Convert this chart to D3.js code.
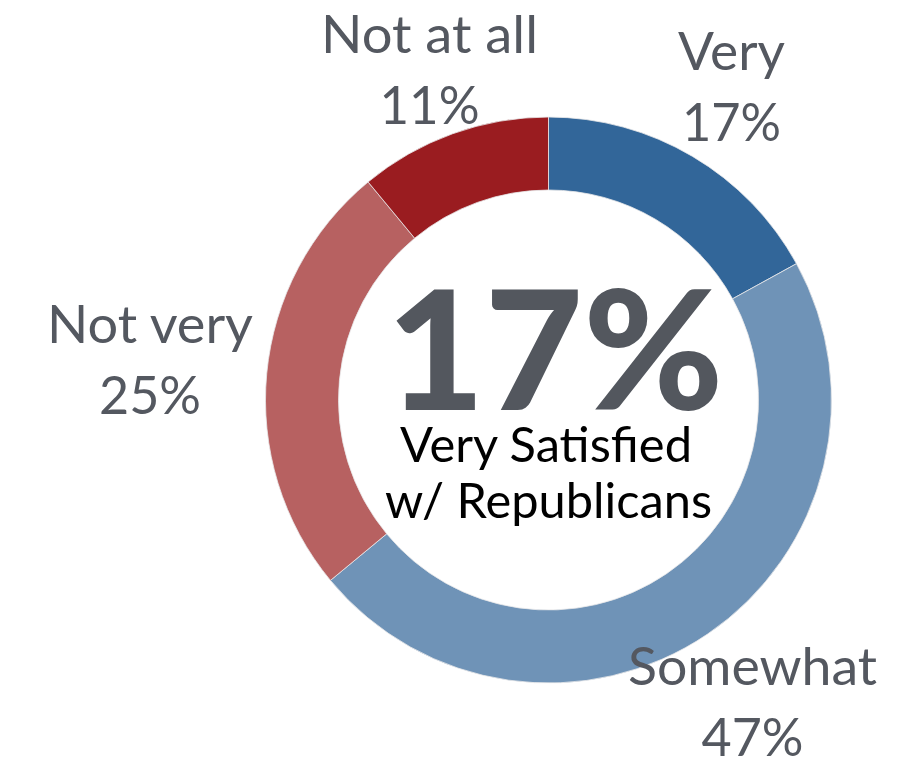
<!DOCTYPE html>
<html>
<head>
<meta charset="utf-8">
<script src="https://cdn.jsdelivr.net/npm/d3@7"></script>
<style>
  html, body { margin: 0; padding: 0; background: #ffffff; }
  svg { display: block; }
</style>
</head>
<body>
<div id="chart"></div>
<script>
// ---- data ----
const categories = ["Very", "Somewhat", "Not very", "Not at all"];
const values = [17, 47, 25, 11];
const colors = ["#326699", "#6f93b7", "#b76161", "#9a1c20"];
const headline = "17%";
const subtitle = ["Very Satisfied", "w/ Republicans"];

// ---- layout (not data) ----
const W = 897, H = 764;
const cx = 548.5, cy = 400;
const rOuter = 283, rInner = 210;
// label anchor (center x, baseline of first line) and target widths
const labelLayout = [
  { x: 731.5, y: 70,  w1: 107, w2: 99 },
  { x: 752.5, y: 685, w1: 249, w2: 102 },
  { x: 150,   y: 343, w1: 206, w2: 102 },
  { x: 429.5, y: 53,  w1: 217, w2: 100 }
];
const lineGap = 71;

const svg = d3.select("#chart").append("svg")
  .attr("width", W).attr("height", H);

const pie = d3.pie().value(d => d).sort(null);
const arc = d3.arc().innerRadius(rInner).outerRadius(rOuter);

const g = svg.append("g").attr("transform", `translate(${cx},${cy})`);
g.selectAll("path")
  .data(pie(values))
  .join("path")
  .attr("d", arc)
  .attr("fill", (d, i) => colors[i])
  .attr("stroke", "#e9e9ea")
  .attr("stroke-width", 0.8);

// outer labels
const labelColor = "#545860";
const lab = svg.append("g")
  .attr("font-family", "Lato, 'Open Sans', sans-serif")
  .attr("fill", labelColor)
  .attr("font-size", 52)
  .attr("text-anchor", "middle");

categories.forEach((c, i) => {
  const L = labelLayout[i];
  lab.append("text")
    .attr("x", L.x).attr("y", L.y)
    .attr("textLength", L.w1).attr("lengthAdjust", "spacingAndGlyphs")
    .text(c);
  lab.append("text")
    .attr("x", L.x).attr("y", L.y + lineGap)
    .attr("textLength", L.w2).attr("lengthAdjust", "spacingAndGlyphs")
    .text(values[i] + "%");
});

// center text
svg.append("text")
  .attr("x", 555).attr("y", 410)
  .attr("text-anchor", "middle")
  .attr("font-family", "Lato, sans-serif")
  .attr("font-weight", 900)
  .attr("font-size", 166)
  .attr("fill", "#53575e")
  .attr("textLength", 337).attr("lengthAdjust", "spacingAndGlyphs")
  .text(headline);

svg.append("text")
  .attr("x", 546).attr("y", 462)
  .attr("text-anchor", "middle")
  .attr("font-family", "Lato, sans-serif")
  .attr("font-size", 48)
  .attr("fill", "#000000")
  .attr("textLength", 292).attr("lengthAdjust", "spacingAndGlyphs")
  .text(subtitle[0]);

svg.append("text")
  .attr("x", 548.5).attr("y", 518)
  .attr("text-anchor", "middle")
  .attr("font-family", "Lato, sans-serif")
  .attr("font-size", 48)
  .attr("fill", "#000000")
  .attr("textLength", 327).attr("lengthAdjust", "spacingAndGlyphs")
  .text(subtitle[1]);
</script>
</body>
</html>
